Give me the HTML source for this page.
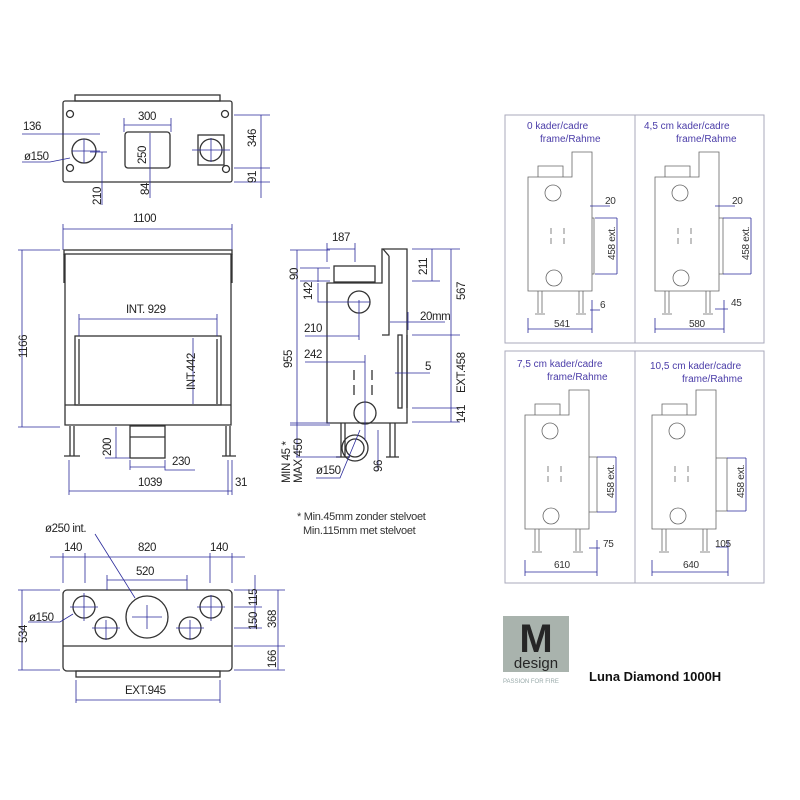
<!DOCTYPE html>
<html><head><meta charset="utf-8"><style>
html,body{margin:0;padding:0;background:#fff}
svg{display:block}
text{font-family:"Liberation Sans",sans-serif;}
.d{stroke:#2a2a9a;stroke-width:0.8;fill:none}
.b{stroke:#333;stroke-width:1.3;fill:none}
.g{stroke:#666;stroke-width:0.8;fill:none}
.t{font-size:11.5px;fill:#222;letter-spacing:-0.4px}
.p{font-size:10px;fill:#4a3ca8}
.s{font-size:10px;fill:#333;letter-spacing:-0.3px}
</style></head><body>
<svg width="800" height="800" viewBox="0 0 800 800" xmlns="http://www.w3.org/2000/svg">
<rect width="800" height="800" fill="#fff"/>

<!-- TOP VIEW -->
<rect x="75" y="95" width="145" height="6" class="b"/>
<rect x="63" y="101" width="169" height="81" rx="2" class="b"/>
<circle cx="70" cy="114" r="3.5" class="b"/><circle cx="225" cy="114" r="3.5" class="b"/>
<circle cx="70" cy="168" r="3.5" class="b"/><circle cx="226" cy="169" r="3.5" class="b"/>
<circle cx="84" cy="151" r="12" class="b"/>
<rect x="125" y="132" width="45" height="36" rx="3" class="b"/>
<rect x="198" y="135" width="26" height="30" class="b"/><circle cx="211" cy="150" r="11" class="b"/>
<path class="d" d="M72 151H100M84 139V163M192 150H230M211 138V162"/>
<path class="d" d="M124 125H171M124 118V132M171 118V132"/><text x="138" y="120" class="t">300</text>
<path class="d" d="M22 134H100"/><text x="23" y="130" class="t">136</text>
<path class="d" d="M22 162H50L70 158"/><text x="24" y="160" class="t">ø150</text>
<path class="d" d="M102 152V205M90 152H107"/><text transform="translate(101,205) rotate(-90)" class="t">210</text>
<path class="d" d="M150 133V198"/><text transform="translate(149,195) rotate(-90)" class="t">84</text>
<text transform="translate(146,164) rotate(-90)" class="t">250</text>
<path class="d" d="M234 115H270M234 168H270M234 182H270M261 115V198"/>
<text transform="translate(256,147) rotate(-90)" class="t">346</text>
<text transform="translate(256,183) rotate(-90)" class="t">91</text>

<!-- FRONT VIEW -->
<path class="d" d="M63 229H232M63 224V250M232 224V250"/><text x="133" y="222" class="t">1100</text>
<rect x="64" y="250" width="168" height="4" class="b"/>
<path class="b" d="M65 254V425H231V254M64 254V283M232 254V283"/>
<rect x="75" y="336" width="146" height="69" class="b"/>
<path class="b" d="M79 339V404M217 339V404M65 405H231"/>
<path class="b" d="M70 426V456M74 426V456M226 426V456M230 426V456M64 456H80M222 456H236"/>
<rect x="130" y="426" width="35" height="32" class="b"/><path class="b" d="M130 437H165"/>
<path class="d" d="M22 250V427M18 250H60M18 427H60"/><text transform="translate(27,358) rotate(-90)" class="t">1166</text>
<path class="d" d="M79 319H217M79 314V336M217 314V336"/><text x="126" y="313" class="t">INT. 929</text>
<path class="d" d="M193 338V404"/><text transform="translate(195,390) rotate(-90)" class="t">INT.442</text>
<path class="d" d="M116 427V458M105 458H130"/><text transform="translate(111,456) rotate(-90)" class="t">200</text>
<path class="d" d="M130 467H165M130 460V470M165 460V470H195"/><text x="172" y="465" class="t">230</text>
<path class="d" d="M69 491H232M69 460V495M228 460V495M232 460V495"/><text x="138" y="486" class="t">1039</text>
<text x="235" y="486" class="t">31</text>

<!-- SIDE VIEW -->
<rect x="334" y="266" width="41" height="16" class="b"/>
<path class="b" d="M327 283H382V249H407V423H327Z"/>
<path class="b" d="M389 256V335H382M383 249L389 256"/>
<circle cx="359" cy="302" r="11" class="b"/><circle cx="365" cy="413" r="11" class="b"/>
<circle cx="355" cy="448" r="13" class="b"/><circle cx="355" cy="448" r="9" class="b"/>
<rect x="398" y="335" width="4" height="73" class="b"/><path class="b" d="M407 335V408"/>
<path class="b" d="M341 423V457M345 423V457M390 423V457M395 423V457M336 457H350M386 457H399"/>
<path class="b" d="M354 370V380M354 385V395M372 370V380M372 385V395"/>
<path class="d" d="M327 249H355M327 243V262M355 243V262"/><text x="332" y="241" class="t">187</text>
<path class="d" d="M297 250V423M290 250H330M290 423H330"/><text transform="translate(292,368) rotate(-90)" class="t">955</text>
<path class="d" d="M300 268H330M300 281H330M318 268V282"/><text transform="translate(298,280) rotate(-90)" class="t">90</text>
<path class="d" d="M318 283V302H370"/><text transform="translate(312,300) rotate(-90)" class="t">142</text>
<path class="d" d="M305 336H359M359 300V340"/><text x="304" y="332" class="t">210</text>
<path class="d" d="M305 362H365M365 355V440"/><text x="304" y="358" class="t">242</text>
<path class="d" d="M290 425H330M296 457H340M297 423V457"/>
<text transform="translate(290,483) rotate(-90)" class="t">MIN 45 *</text>
<text transform="translate(302,483) rotate(-90)" class="t">MAX 450</text>
<path class="d" d="M316 478H340L360 430"/><text x="316" y="474" class="t">ø150</text>
<path class="d" d="M378 430V470"/><text transform="translate(382,472) rotate(-90)" class="t">96</text>
<path class="d" d="M412 249H460M412 281H440M432 249V281"/><text transform="translate(427,275) rotate(-90)" class="t">211</text>
<path class="d" d="M451 249V422M412 335H460M412 408H460M412 422H460"/>
<text transform="translate(465,300) rotate(-90)" class="t">567</text>
<text transform="translate(465,393) rotate(-90)" class="t">EXT.458</text>
<text transform="translate(465,423) rotate(-90)" class="t">141</text>
<path class="d" d="M390 322H445M408 312V330"/><text x="420" y="320" class="t">20mm</text>
<path class="d" d="M395 373H430"/><text x="425" y="370" class="t">5</text>
<text x="297" y="520" class="s" style="font-size:11px">* Min.45mm zonder stelvoet</text>
<text x="303" y="534" class="s" style="font-size:11px">Min.115mm met stelvoet</text>

<!-- BOTTOM VIEW -->
<rect x="63" y="590" width="169" height="81" rx="4" class="b"/>
<path class="b" d="M63 646H232"/>
<rect x="76" y="671" width="144" height="6" class="b"/>
<circle cx="84" cy="607" r="11" class="b"/><circle cx="106" cy="628" r="11" class="b"/>
<circle cx="147" cy="617" r="21" class="b"/><circle cx="190" cy="628" r="11" class="b"/><circle cx="211" cy="607" r="11" class="b"/>
<path class="d" d="M70 607H98M84 593V621M92 628H120M106 620V640M132 617H162M147 605V629M176 628H204M190 620V640M197 607H225M211 595V621"/>
<path class="d" d="M50 557H245M63 553V583M85 553V583M210 553V583M232 553V583"/>
<text x="64" y="551" class="t">140</text><text x="138" y="551" class="t">820</text><text x="210" y="551" class="t">140</text>
<path class="d" d="M107 580H187M107 575V590M187 575V590"/><text x="136" y="575" class="t">520</text>
<path class="d" d="M95 534L135 598"/><text x="45" y="532" class="t">ø250 int.</text>
<path class="d" d="M28 622H60L73 614"/><text x="29" y="621" class="t">ø150</text>
<path class="d" d="M22 590V670M18 590H60M18 670H60"/><text transform="translate(27,643) rotate(-90)" class="t">534</text>
<path class="d" d="M255 575V628M234 607H262M234 628H262M278 590V670M234 590H285M234 646H285M234 670H285"/>
<text transform="translate(257,606) rotate(-90)" class="t">115</text>
<text transform="translate(257,630) rotate(-90)" class="t">150</text>
<text transform="translate(276,628) rotate(-90)" class="t">368</text>
<text transform="translate(276,668) rotate(-90)" class="t">166</text>
<path class="d" d="M76 700H220M76 680V703M220 680V703"/><text x="125" y="694" class="t">EXT.945</text>

<!-- RIGHT PANELS -->
<rect x="505" y="115" width="259" height="228" fill="none" stroke="#aab" stroke-width="1"/>
<rect x="505" y="351" width="259" height="232" fill="none" stroke="#aab" stroke-width="1"/>
<path d="M635 115V343M635 351V583" stroke="#aab" stroke-width="1"/>

<text x="527" y="129" class="p">0  kader/cadre</text><text x="540" y="142" class="p">frame/Rahme</text>
<text x="644" y="129" class="p">4,5 cm  kader/cadre</text><text x="676" y="142" class="p">frame/Rahme</text>
<text x="517" y="367" class="p">7,5 cm kader/cadre</text><text x="547" y="380" class="p">frame/Rahme</text>
<text x="650" y="369" class="p">10,5 cm kader/cadre</text><text x="682" y="382" class="p">frame/Rahme</text>

<g id="m1">
<path class="g" d="M528 177H572V152H592V291H528Z M538 177V166H563V177"/>
<circle cx="553" cy="193" r="8" class="g"/><circle cx="554" cy="278" r="8" class="g"/>
<path class="g" d="M551 228V234M551 238V244M564 228V234M564 238V244"/>
<path class="g" d="M538 291V313M542 291V313M579 291V313M583 291V313M535 314H545M576 314H586"/>
</g>
<path class="g" d="M592 218H594V274H592"/>
<path class="d" d="M595 218H617M595 274H617M617 218V274M590 206H610M590 310H600M528 329H592M528 318V333M592 300V333"/>
<text x="605" y="204" class="s">20</text><text transform="translate(615,260) rotate(-90)" class="s">458 ext.</text>
<text x="600" y="308" class="s">6</text><text x="554" y="327" class="s">541</text>

<use href="#m1" x="127"/>
<path class="g" d="M719 218H723V274H719"/>
<path class="d" d="M723 218H751M723 274H751M751 218V274M715 206H735M715 309H728M655 329H724M655 318V333M724 300V333"/>
<text x="732" y="204" class="s">20</text><text transform="translate(749,260) rotate(-90)" class="s">458 ext.</text>
<text x="731" y="306" class="s">45</text><text x="689" y="327" class="s">580</text>

<use href="#m1" x="-3" y="238"/>
<path class="g" d="M589 457H597V512H589"/>
<path class="d" d="M597 457H616M597 512H616M616 457V512M589 548H600M525 572H597M525 560V576M597 540V576"/>
<text transform="translate(614,498) rotate(-90)" class="s">458 ext.</text>
<text x="603" y="547" class="s">75</text><text x="554" y="568" class="s">610</text>

<use href="#m1" x="124" y="238"/>
<path class="g" d="M716 458H727V511H716"/>
<path class="d" d="M727 458H746M727 511H746M746 458V511M716 547H728M652 572H728M652 560V576M728 540V576"/>
<text transform="translate(744,498) rotate(-90)" class="s">458 ext.</text>
<text x="715" y="547" class="s">105</text><text x="683" y="568" class="s">640</text>

<!-- LOGO -->
<rect x="503" y="616" width="66" height="56" fill="#a9b3ad"/>
<text x="536" y="652" text-anchor="middle" style="font-family:'Liberation Sans',sans-serif;font-weight:bold;font-size:40px;fill:#262626">M</text>
<text x="536" y="668" text-anchor="middle" style="font-family:'Liberation Sans',sans-serif;font-size:15px;fill:#262626">design</text>
<text x="503" y="683" style="font-family:'Liberation Sans',sans-serif;font-size:6px;fill:#9aa">PASSION FOR FIRE</text>
<text x="589" y="681" style="font-family:'Liberation Sans',sans-serif;font-weight:bold;font-size:13px;fill:#111">Luna Diamond 1000H</text>
</svg>
</body></html>
